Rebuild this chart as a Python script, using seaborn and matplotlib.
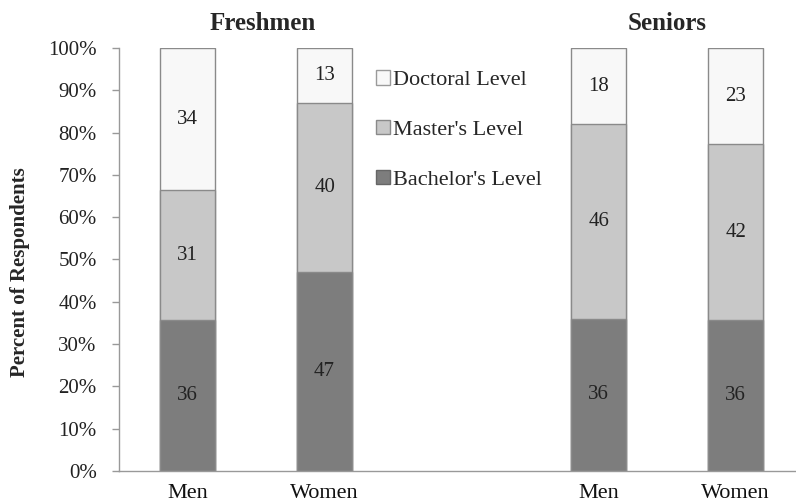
import numpy as np
import pandas as pd
import matplotlib
matplotlib.use("Agg")
import matplotlib.pyplot as plt
import matplotlib.transforms as mtransforms
from matplotlib.patches import Patch
import seaborn as sns

# ---- data ----
groups = ["Freshmen", "Seniors"]
bar_keys = ["F-Men", "F-Women", "S-Men", "S-Women"]
bar_labels = ["Men", "Women", "Men", "Women"]
bachelor = [36, 47, 36, 36]
master = [31, 40, 46, 42]
doctoral = [34, 13, 18, 23]
series = ["Doctoral Level", "Master's Level", "Bachelor's Level"]
yticks = list(range(0, 101, 10))
slots = ["F-Men", "F-Women", "gap", "S-Men", "S-Women"]
slot_labels = ["Men", "Women", "", "Men", "Women"]

sns.set_theme(style="white")
plt.rcParams["font.family"] = ["Liberation Serif", "DejaVu Serif"]

df = pd.DataFrame({"key": bar_keys, "b": bachelor, "m": master, "d": doctoral})
tot = df[["b", "m", "d"]].sum(axis=1)
df["pb"] = df["b"] / tot * 100
df["pm"] = df["m"] / tot * 100
df["pd"] = df["d"] / tot * 100
df["c1"] = df["pb"]
df["c2"] = df["pb"] + df["pm"]
df["c3"] = df["c2"] + df["pd"]

fig = plt.figure(figsize=(7.96, 5.03), dpi=100)
ax = fig.add_axes([0.1495, 0.0636, 0.8505, 0.841])

colors = {"d": "#f8f8f8", "m": "#c8c8c8", "b": "#7d7d7d"}
for col, c in [("c3", "d"), ("c2", "m"), ("c1", "b")]:
    sns.barplot(data=df, x="key", y=col, order=slots, color=colors[c],
                width=0.4, edgecolor="#8a8a8a", linewidth=1.0,
                saturation=1, ax=ax)

# segment value labels
for _, r in df.iterrows():
    xi = slots.index(r["key"])
    ax.text(xi, r["pb"] / 2, f"{r['b']}", ha="center", va="center", fontsize=15, color="#222222")
    ax.text(xi, r["pb"] + r["pm"] / 2, f"{r['m']}", ha="center", va="center", fontsize=15, color="#222222")
    ax.text(xi, r["c2"] + r["pd"] / 2, f"{r['d']}", ha="center", va="center", fontsize=15, color="#222222")

ax.set_xlim(-0.5, 4.44)
ax.set_ylim(0, 100)
ax.set_yticks(yticks)
ax.set_yticklabels([f"{v}%" for v in yticks], fontsize=15, color="#222222")
ax.set_xticks(range(len(slots)))
ax.set_xticklabels(slot_labels, fontsize=16, color="#111111")
ax.set_xticks([-0.5, 0.5, 1.5, 2.5, 3.5], minor=True)
ax.tick_params(axis="x", which="major", length=0, pad=9)
ax.tick_params(axis="x", which="minor", length=5, width=1, color="#999999", direction="out")
ax.tick_params(axis="y", which="major", length=5, width=1, color="#999999", direction="out", pad=11, left=True)
ax.set_xlabel("")
ax.set_ylabel("Percent of Respondents", fontsize=15, fontweight="bold")
ax.yaxis.set_label_coords(-0.132, 0.47)
for s in ["top", "right"]:
    ax.spines[s].set_visible(False)
for s in ["left", "bottom"]:
    ax.spines[s].set_color("#999999")
    ax.spines[s].set_linewidth(1)

trans = mtransforms.blended_transform_factory(ax.transData, ax.transAxes)
ax.text(0.55, 1.03, groups[0], transform=trans, ha="center", va="bottom", fontsize=18, fontweight="bold")
ax.text(3.5, 1.03, groups[1], transform=trans, ha="center", va="bottom", fontsize=18, fontweight="bold")

handles = [Patch(facecolor=colors["d"], edgecolor="#9a9a9a"),
           Patch(facecolor=colors["m"], edgecolor="#8a8a8a"),
           Patch(facecolor=colors["b"], edgecolor="#666666")]
fig.legend(handles, series, loc="upper left", bbox_to_anchor=(0.459, 0.882),
           frameon=False, fontsize=16, handlelength=0.6, handleheight=0.6,
           handletextpad=0.15, labelspacing=1.35, borderpad=0)

fig.savefig("out.png", dpi=100, facecolor="white")
